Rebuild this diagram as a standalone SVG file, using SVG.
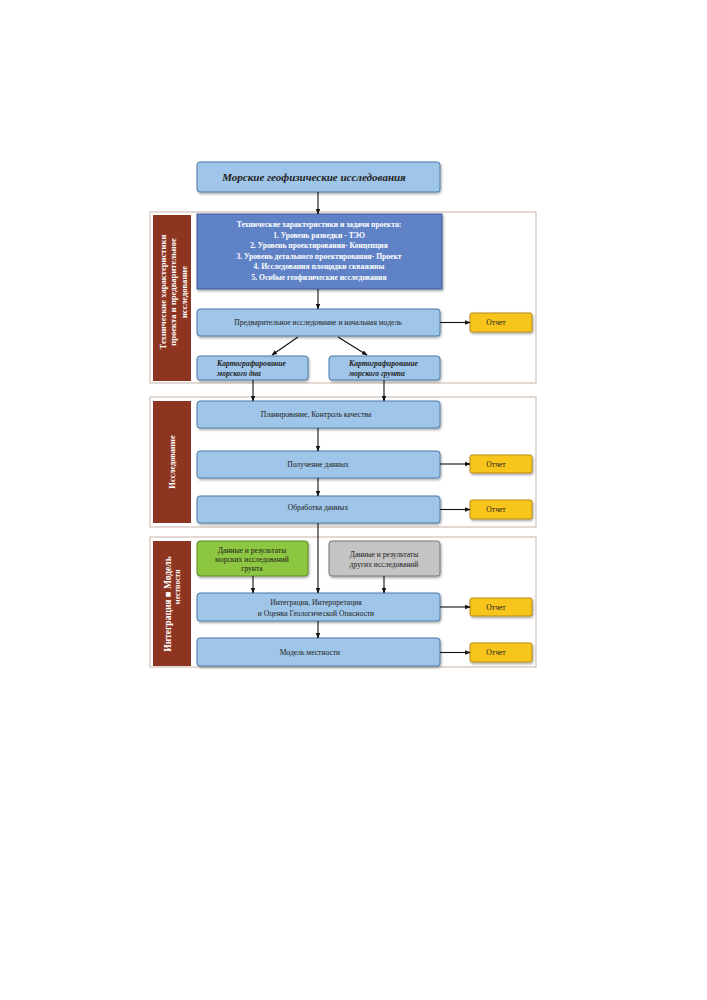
<svg xmlns="http://www.w3.org/2000/svg" width="707" height="1000" viewBox="0 0 707 1000">
<defs>
<marker id="ah" viewBox="0 0 10 10" refX="9" refY="5" markerWidth="5" markerHeight="5" orient="auto"><path d="M0,1 L10,5 L0,9 z" fill="#111"/></marker>
<filter id="sh" x="-5%" y="-10%" width="115%" height="130%"><feDropShadow dx="1" dy="1.5" stdDeviation="1" flood-color="#000" flood-opacity="0.35"/></filter>
</defs>
<style>
text{font-family:"Liberation Serif","DejaVu Serif",serif;fill:#222}
.sec{fill:#fff;stroke:#c9b4a6;stroke-width:1}
.lab rect{fill:#8e3522}
.lab text{fill:#fff;font-weight:bold}
.lb{fill:#9fc5e8;stroke:#4a7aa8;stroke-width:1;filter:url(#sh)}
.db{fill:#5e82c6;stroke:#3f5f9a;stroke-width:1;filter:url(#sh)}
.ot{fill:#f7c51e;stroke:#b88a10;stroke-width:1;filter:url(#sh)}
.gr{fill:#8dc641;stroke:#5d8a2a;stroke-width:1;filter:url(#sh)}
.gy{fill:#c4c4c4;stroke:#777;stroke-width:1;filter:url(#sh)}
.t{font-size:7.6px;text-anchor:middle;dominant-baseline:central}
.w{fill:#fff;font-weight:bold}
.k{font-size:7.6px;font-weight:bold;font-style:italic}
.c line{stroke:#111;stroke-width:1.1;marker-end:url(#ah)}
</style>

<g id="sections">
<rect class="sec" x="150" y="212" width="386" height="171"/>
<rect class="sec" x="150" y="397" width="386" height="130"/>
<rect class="sec" x="150" y="537" width="386" height="130"/>
</g>

<g id="label1" class="lab"><rect x="153" y="215" width="38" height="166"/>
<text transform="translate(172,292) rotate(-90)" text-anchor="middle" font-size="8.6px"><tspan x="0" y="-6.5">Технические характеристики</tspan><tspan x="0" y="4">проекта и предварительное</tspan><tspan x="0" y="14.5">исследование</tspan></text></g>
<g id="label2" class="lab"><rect x="153" y="401" width="38" height="122"/>
<text transform="translate(172,462) rotate(-90)" text-anchor="middle" font-size="8.5px" y="3">Исследование</text></g>
<g id="label3" class="lab"><rect x="153" y="541" width="38" height="125"/>
<text transform="translate(172,604) rotate(-90)" text-anchor="middle"><tspan x="0" y="-1" font-size="9.5px">Интеграция ■ Модель</tspan><tspan x="17" y="8" font-size="7.5px">местности</tspan></text></g>

<g id="title"><rect class="lb" x="197" y="162" width="243" height="30" rx="3"/>
<text x="314" y="177" font-size="11px" font-weight="bold" font-style="italic" text-anchor="middle" dominant-baseline="central">Морские геофизические исследования</text></g>

<g id="tasks"><rect class="db" x="197" y="214" width="245" height="75"/>
<text class="t w" x="319"><tspan x="319" y="224">Технические характеристики и задачи проекта:</tspan><tspan x="319" y="234.6">1. Уровень разведки - ТЭО</tspan><tspan x="319" y="245.2">2. Уровень проектирования- Концепция</tspan><tspan x="319" y="255.8">3. Уровень детального проектирования- Проект</tspan><tspan x="319" y="266.4">4. Исследования площадки скважины</tspan><tspan x="319" y="277">5. Особые геофизические исследования</tspan></text></g>

<g id="prestudy"><rect class="lb" x="197" y="309" width="243" height="27" rx="3"/>
<text class="t" x="318" y="322.5">Предварительное исследование и начальная модель</text></g>
<g id="report1"><rect class="ot" x="470" y="313" width="62" height="19" rx="2"/><text class="t" x="496" y="322.5" font-size="7px">Отчет</text></g>

<g id="seabed"><rect class="lb" x="197" y="356" width="111" height="24" rx="3"/>
<text class="k" x="217"><tspan x="217" y="366">Картографирование</tspan><tspan x="217" y="376">морского дна</tspan></text></g>
<g id="seabottom"><rect class="lb" x="329" y="356" width="111" height="24" rx="3"/>
<text class="k" x="349"><tspan x="349" y="366">Картографирование</tspan><tspan x="349" y="376">морского грунта</tspan></text></g>

<g id="planning"><rect class="lb" x="197" y="401" width="243" height="27" rx="3"/>
<text class="t" x="316" y="414">Планирование, Контроль качества</text></g>
<g id="acquisition"><rect class="lb" x="197" y="451" width="243" height="27" rx="3"/>
<text class="t" x="318" y="464">Получение данных</text></g>
<g id="report2"><rect class="ot" x="470" y="455" width="62" height="18" rx="2"/><text class="t" x="496" y="464" font-size="7px">Отчет</text></g>
<g id="processing"><rect class="lb" x="197" y="496" width="243" height="27" rx="3"/>
<text class="t" x="318" y="507">Обработка данных</text></g>
<g id="report3"><rect class="ot" x="470" y="500" width="62" height="19" rx="2"/><text class="t" x="496" y="509.5" font-size="7px">Отчет</text></g>

<g id="green"><rect class="gr" x="197" y="541" width="111" height="35" rx="3"/>
<text class="t" x="252"><tspan x="252" y="550">Данные и результаты</tspan><tspan x="252" y="559">морских исследований</tspan><tspan x="252" y="568">грунта</tspan></text></g>
<g id="gray"><rect class="gy" x="329" y="541" width="111" height="35" rx="3"/>
<text class="t" x="384"><tspan x="384" y="554">Данные и результаты</tspan><tspan x="384" y="564">других исследований</tspan></text></g>

<g id="integration"><rect class="lb" x="197" y="593" width="243" height="28" rx="3"/>
<text class="t" x="316"><tspan x="316" y="602">Интеграция, Интерпретация</tspan><tspan x="316" y="613">и Оценка Геологической Опасности</tspan></text></g>
<g id="report4"><rect class="ot" x="470" y="598" width="62" height="18" rx="2"/><text class="t" x="496" y="607" font-size="7px">Отчет</text></g>
<g id="model"><rect class="lb" x="197" y="638" width="243" height="28" rx="3"/>
<text class="t" x="310" y="652">Модель местности</text></g>
<g id="report5"><rect class="ot" x="470" y="643" width="62" height="19" rx="2"/><text class="t" x="496" y="652.5" font-size="7px">Отчет</text></g>

<g id="connectors" class="c">
<line x1="318" y1="192" x2="318" y2="214"/>
<line x1="318" y1="289" x2="318" y2="309"/>
<line x1="440" y1="322.5" x2="470" y2="322.5"/>
<line x1="298" y1="337" x2="272" y2="355"/>
<line x1="338" y1="337" x2="367" y2="355"/>
<line x1="253" y1="380" x2="253" y2="401"/>
<line x1="384" y1="380" x2="384" y2="401"/>
<line x1="318" y1="428" x2="318" y2="451"/>
<line x1="440" y1="464" x2="470" y2="464"/>
<line x1="318" y1="478" x2="318" y2="496"/>
<line x1="440" y1="509.5" x2="470" y2="509.5"/>
<line x1="318" y1="523" x2="318" y2="593"/>
<line x1="253" y1="576" x2="253" y2="593"/>
<line x1="384" y1="576" x2="384" y2="593"/>
<line x1="440" y1="607" x2="470" y2="607"/>
<line x1="318" y1="621" x2="318" y2="638"/>
<line x1="440" y1="652.5" x2="470" y2="652.5"/>
</g>
</svg>
